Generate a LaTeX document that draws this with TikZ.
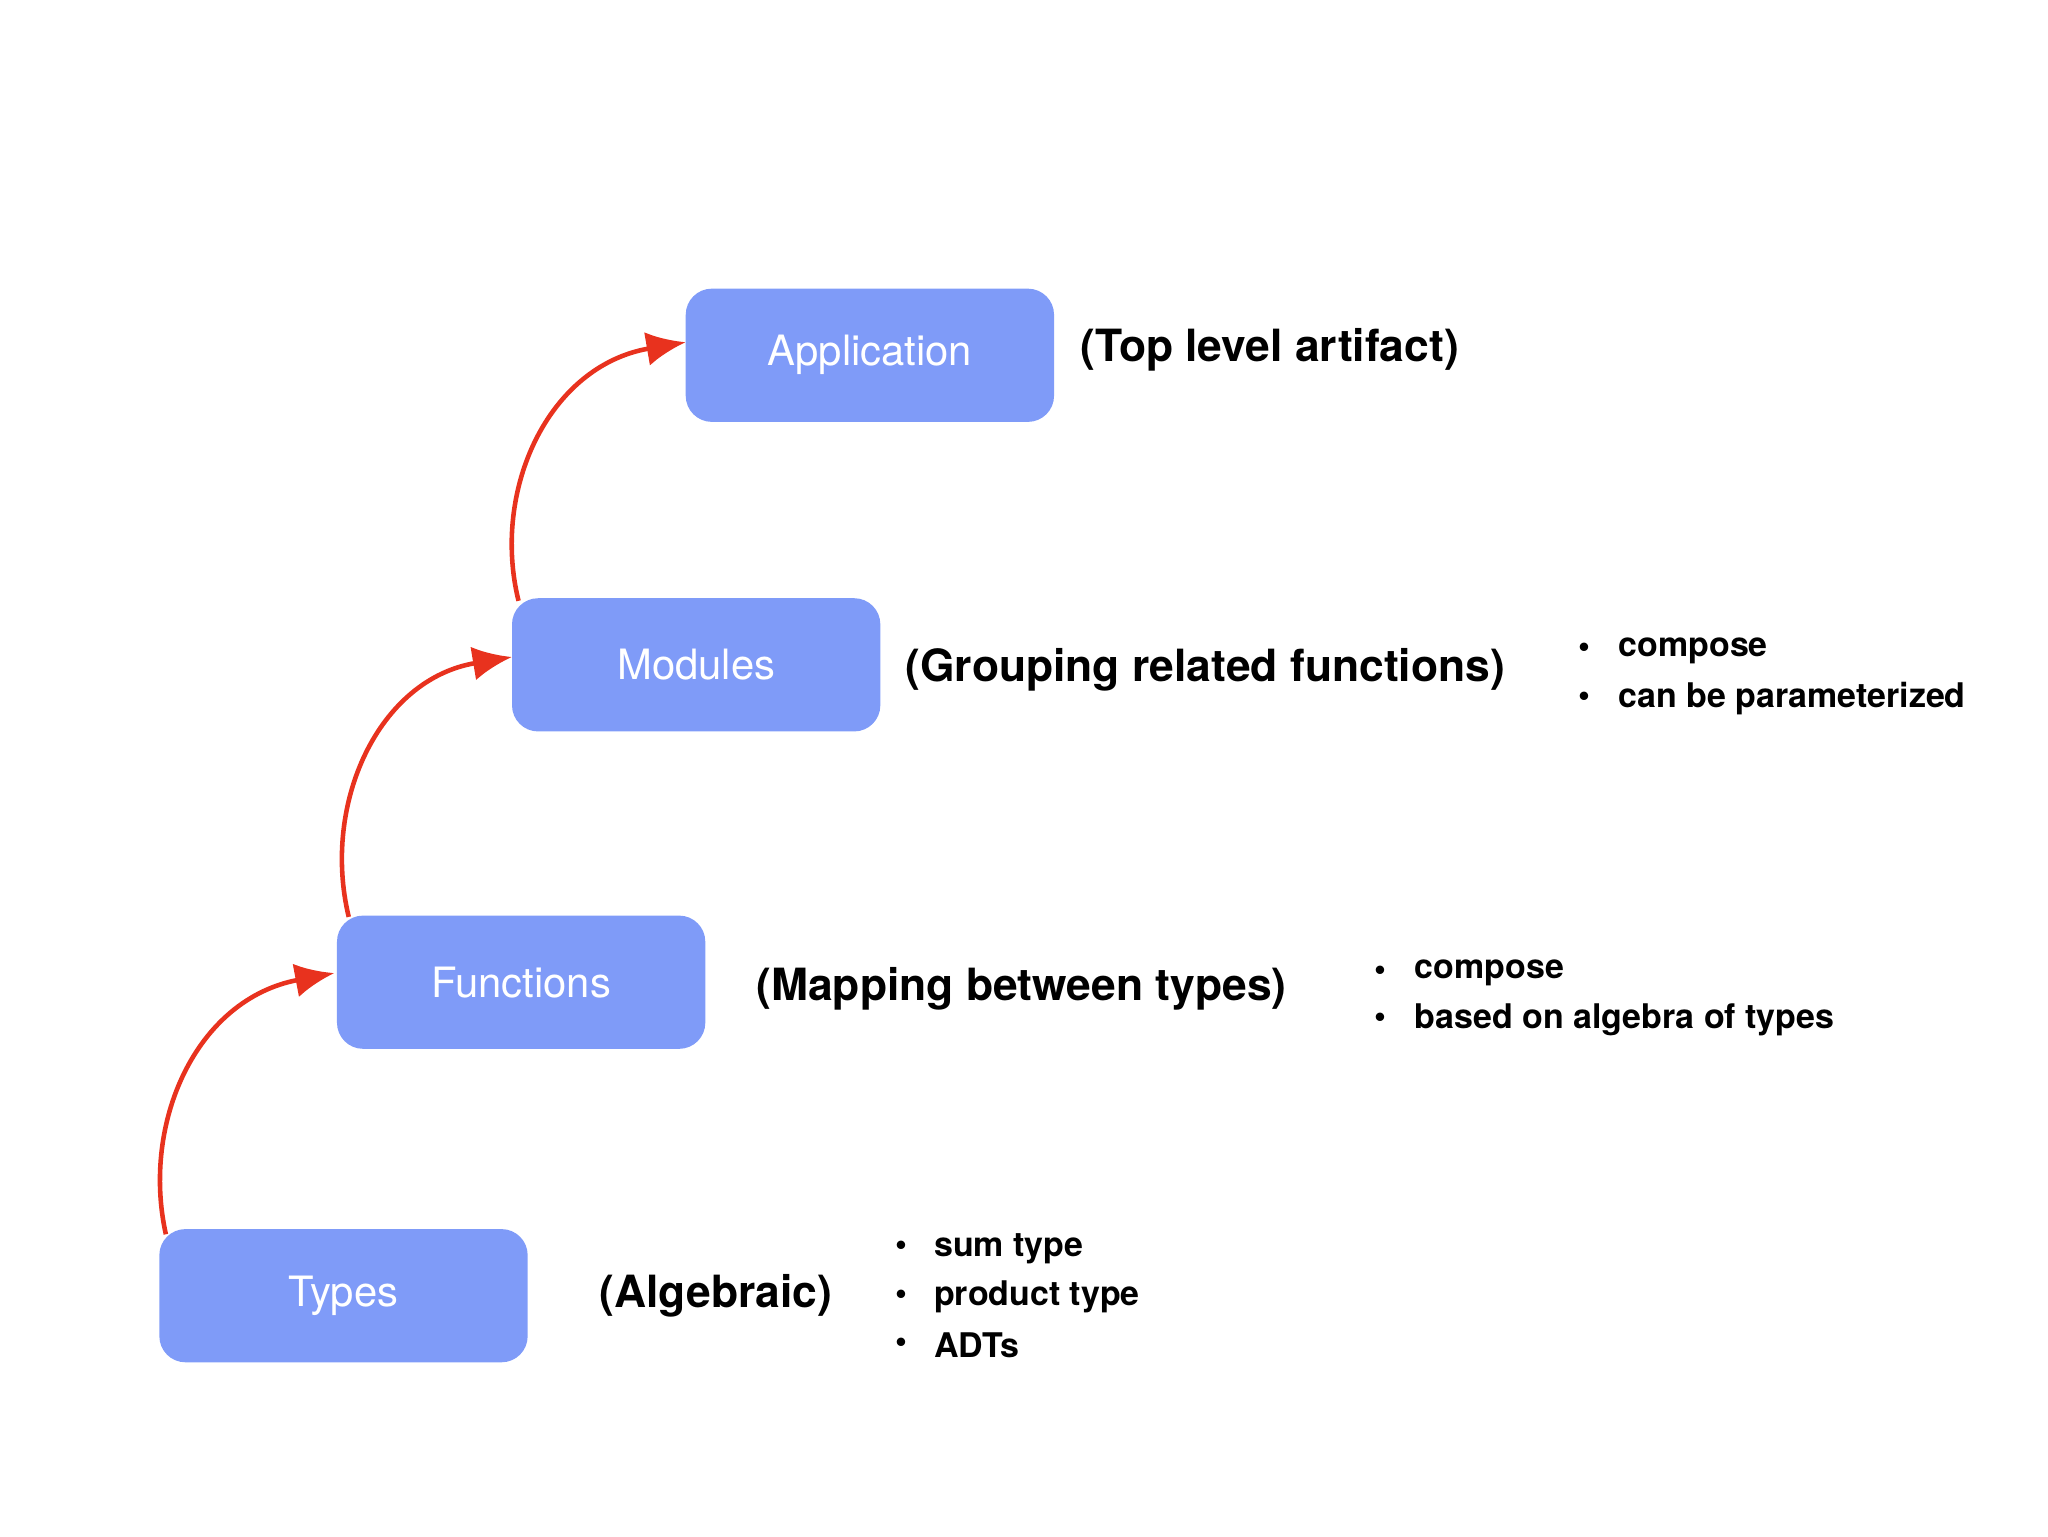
\documentclass[tikz,border=0pt]{standalone}
\usepackage{fontspec}
\setmainfont{TeX Gyre Heros}
\usetikzlibrary{arrows.meta}
\definecolor{boxblue}{HTML}{7F9BF8}
\definecolor{arrred}{HTML}{E8321E}
\begin{document}
\begin{tikzpicture}[x=1pt,y=-1pt,
  box/.style={fill=boxblue,rounded corners=20pt,minimum width=282pt,minimum height=102pt,text=white,font=\fontsize{32}{36}\selectfont,inner sep=0pt},
  lbl/.style={anchor=west,font=\bfseries\fontsize{34}{38}\selectfont,inner sep=0pt},
  itm/.style={anchor=west,font=\bfseries\fontsize{26}{30}\selectfont,inner sep=0pt},
  bul/.style={anchor=center,font=\bfseries\fontsize{26}{30}\selectfont,inner sep=0pt},
  arr/.style={draw=arrred,line width=3.5pt,-{Latex[length=30pt,width=26pt]}}]
\useasboundingbox (0,0) rectangle (1568,1176);
\node[box] (app) at (666,272) {Application};
\node[box] (mod) at (533,509) {Modules};
\node[box] (fun) at (399,752) {Functions};
\node[box] (typ) at (263,992) {Types};
\node[lbl] (l1) at (827,268) {(Top level artifact)};
\node[lbl] (l2) at (693,513) {(Grouping related functions)};
\node[lbl] (l3) at (579,757) {(Mapping between types)};
\node[lbl] (l4) at (459,992) {(Algebraic)};
\foreach \t/\y [count=\i] in {compose/498, can be parameterized/535}{
  \node[bul] (mb\i) at (1213,\y) {•}; \node[itm] (mt\i) at (1239,\y) {\t};}
\foreach \t/\y [count=\i] in {compose/745, based on algebra of types/781}{
  \node[bul] (fb\i) at (1057,\y) {•}; \node[itm] (ft\i) at (1083,\y) {\t};}
\foreach \t/\y [count=\i] in {sum type/956, product type/993, ADTs/1030}{
  \node[bul] (tb\i) at (690,\y) {•}; \node[itm] (tt\i) at (715,\y) {\t};}
\coordinate (a1) at (127,945); \coordinate (b1) at (256,745);
\coordinate (a2) at (267,702); \coordinate (b2) at (392,503);
\coordinate (a3) at (397,460); \coordinate (b3) at (525,262);
\draw[arr] (a1) .. controls (108,860) and (150,765) .. (b1);
\draw[arr] (a2) .. controls (246,615) and (290,520) .. (b2);
\draw[arr] (a3) .. controls (376,375) and (420,280) .. (b3);
\end{tikzpicture}
\end{document}
